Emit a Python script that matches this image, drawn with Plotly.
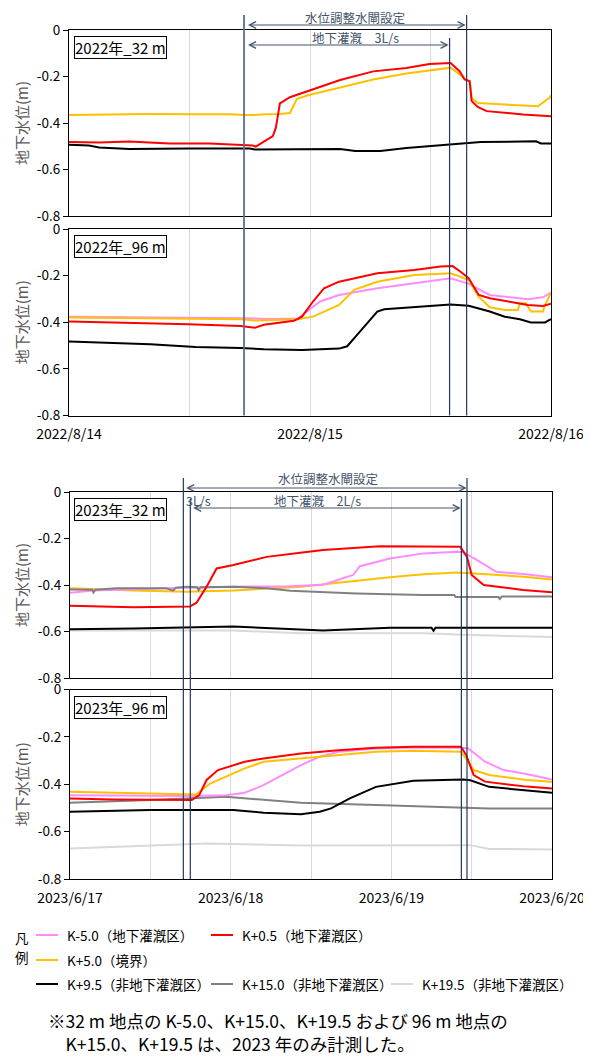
import pandas as pd
import plotly.graph_objects as go

# ------------------------------------------------------------------ data
start_2022 = "2022-08-14 00:00"
end_2022 = "2022-08-16 00:00"
start_2023 = "2023-06-17 00:00"
end_2023 = "2023-06-20 00:00"

series_names = ["K-5.0（地下灌漑区）", "K+0.5（地下灌漑区）", "K+5.0（境界）",
                "K+9.5（非地下灌漑区）", "K+15.0（非地下灌漑区）", "K+19.5（非地下灌漑区）"]
series_colors = ["#ff8cff", "#ff0000", "#ffc000", "#000000", "#808080", "#d9d9d9"]

panel_titles = ["2022年_32 m", "2022年_96 m", "2023年_32 m", "2023年_96 m"]
y_tick_vals = [0, -0.2, -0.4, -0.6, -0.8]
y_tick_text = ["0", "-0.2", "-0.4", "-0.6", "-0.8"]
x_ticks_2022 = ["2022-08-14", "2022-08-15", "2022-08-16"]
x_labels_2022 = ["2022/8/14", "2022/8/15", "2022/8/16"]
x_ticks_2023 = ["2023-06-17", "2023-06-18", "2023-06-19", "2023-06-20"]
x_labels_2023 = ["2023/6/17", "2023/6/18", "2023/6/19", "2023/6/20"]

# event times (hours after start)
ev2022_gate = [17.43, 39.6]        # 水位調整水閘設定
ev2022_irr = [17.43, 37.9]         # 地下灌漑 3L/s
ev2023_gate = [16.93, 59.3]
ev2023_irr3 = [16.93, 17.97]       # 3L/s
ev2023_irr2 = [17.97, 58.46]       # 地下灌漑 2L/s

# ---- panel 1 : 2022 32 m  (hours, values)
p1_red_h = [0, 3, 6, 10, 14, 17.5, 18.3, 18.6, 19.2, 20.3, 20.6, 21.0, 22.0, 23.8, 27.0, 30.3, 33.6, 35.9, 38.0, 38.9, 39.4, 39.9, 40.1, 40.7, 41.6, 45.2, 48]
p1_red_v = [-0.482, -0.484, -0.480, -0.488, -0.488, -0.494, -0.497, -0.502, -0.485, -0.456, -0.42, -0.316, -0.289, -0.263, -0.215, -0.178, -0.163, -0.146, -0.142, -0.177, -0.213, -0.22, -0.306, -0.331, -0.349, -0.363, -0.371]
p1_yel_h = [0, 4, 8, 12, 16, 17.5, 18.5, 19.5, 21.0, 22.0, 22.3, 22.7, 23.8, 27.0, 30.3, 33.6, 36.9, 38.0, 38.9, 39.4, 39.9, 40.1, 40.7, 43.6, 46.7, 47.9, 48]
p1_yel_v = [-0.366, -0.362, -0.361, -0.362, -0.362, -0.366, -0.366, -0.362, -0.361, -0.357, -0.33, -0.296, -0.281, -0.249, -0.213, -0.187, -0.167, -0.162, -0.19, -0.21, -0.22, -0.292, -0.314, -0.32, -0.328, -0.29, -0.28]
p1_blk_h = [0, 2, 3, 6, 12, 18, 18.5, 24, 27, 28.5, 31, 33.6, 38, 41, 46.5, 47, 48]
p1_blk_v = [-0.494, -0.497, -0.505, -0.512, -0.51, -0.51, -0.514, -0.511, -0.512, -0.52, -0.52, -0.508, -0.492, -0.482, -0.479, -0.488, -0.488]

# ---- panel 2 : 2022 96 m
p2_pnk_h = [0, 6, 12, 17.5, 20, 22.8, 23.9, 25.0, 26.9, 30.7, 34.4, 38.0, 39.7, 41.9, 45.7, 47.2, 48]
p2_pnk_v = [-0.376, -0.378, -0.38, -0.383, -0.386, -0.384, -0.347, -0.311, -0.283, -0.254, -0.233, -0.211, -0.233, -0.283, -0.301, -0.293, -0.273]
p2_red_h = [0, 6, 11.9, 17.1, 18.5, 19.4, 22.4, 23.2, 24.3, 25.4, 26.9, 30.7, 34.4, 37.0, 38.2, 38.9, 39.8, 40.8, 41.9, 45.7, 47.2, 48]
p2_red_v = [-0.397, -0.402, -0.409, -0.416, -0.424, -0.411, -0.394, -0.376, -0.311, -0.254, -0.226, -0.19, -0.176, -0.161, -0.159, -0.18, -0.211, -0.283, -0.297, -0.326, -0.33, -0.321]
p2_yel_h = [0, 8, 17.1, 18.5, 22.8, 24.3, 26.9, 28.4, 30.7, 34.4, 38.0, 38.5, 39.8, 40.8, 41.9, 43.4, 44.7, 44.9, 45.5, 46.0, 47.2, 47.4, 48]
p2_yel_v = [-0.38, -0.383, -0.387, -0.393, -0.387, -0.376, -0.326, -0.261, -0.226, -0.197, -0.19, -0.197, -0.219, -0.29, -0.336, -0.347, -0.347, -0.319, -0.319, -0.354, -0.354, -0.326, -0.273]
p2_blk_h = [0, 8.1, 12.6, 17.1, 19.4, 23.2, 26.9, 27.7, 28.8, 30.7, 31.4, 34.4, 38.0, 39.8, 41.9, 43.4, 44.9, 46.0, 47.4, 48]
p2_blk_v = [-0.483, -0.494, -0.506, -0.51, -0.516, -0.519, -0.513, -0.503, -0.449, -0.354, -0.344, -0.336, -0.324, -0.329, -0.354, -0.376, -0.387, -0.401, -0.401, -0.387]

# ---- panel 3 : 2023 32 m
p3_pnk_h = [0, 3.5, 14.4, 24.4, 32.9, 37.8, 42.3, 43.3, 47.8, 52.8, 57.8, 58.8, 60.8, 63.7, 67.7, 72]
p3_pnk_v = [-0.433, -0.424, -0.414, -0.407, -0.405, -0.399, -0.357, -0.319, -0.286, -0.264, -0.257, -0.26, -0.293, -0.343, -0.353, -0.367]
p3_red_h = [0, 9.5, 17.9, 18.9, 20.4, 21.9, 24.4, 29.4, 34.4, 37.8, 46.3, 52.8, 58.3, 59.3, 60.0, 61.8, 67.7, 72]
p3_red_v = [-0.489, -0.496, -0.493, -0.476, -0.407, -0.329, -0.314, -0.279, -0.261, -0.25, -0.233, -0.233, -0.236, -0.279, -0.357, -0.40, -0.421, -0.431]
p3_yel_h = [0, 9.5, 17.4, 24.4, 34.4, 42.8, 47.8, 52.8, 57.8, 59.8, 67.7, 72]
p3_yel_v = [-0.414, -0.424, -0.429, -0.424, -0.407, -0.381, -0.367, -0.354, -0.346, -0.35, -0.364, -0.376]
p3_blk_h = [0, 9.5, 24.4, 34.4, 37.8, 47.8, 54.0, 54.3, 54.6, 57.8, 72]
p3_blk_v = [-0.59, -0.587, -0.579, -0.593, -0.596, -0.584, -0.584, -0.597, -0.584, -0.584, -0.584]
p3_gry_h = [0, 3.3, 3.5, 3.8, 7, 14.4, 15.4, 15.8, 17.4, 19.0, 19.2, 19.5, 24.4, 29.4, 32.9, 42.8, 52.8, 57.4, 57.6, 58.8, 64.0, 64.2, 64.5, 72]
p3_gry_v = [-0.419, -0.42, -0.432, -0.42, -0.414, -0.414, -0.424, -0.412, -0.407, -0.41, -0.422, -0.41, -0.407, -0.414, -0.425, -0.437, -0.443, -0.443, -0.452, -0.452, -0.452, -0.46, -0.45, -0.45]
p3_lgy_h = [0, 24.4, 34.4, 52.8, 58.8, 72]
p3_lgy_v = [-0.596, -0.596, -0.607, -0.607, -0.614, -0.624]

# ---- panel 4 : 2023 96 m
p4_pnk_h = [0, 17.6, 23.3, 26.1, 28.9, 34.5, 37.3, 40.1, 45.7, 51.3, 58.4, 59.5, 62.0, 64.8, 68.2, 72]
p4_pnk_v = [-0.446, -0.45, -0.446, -0.436, -0.404, -0.319, -0.284, -0.263, -0.249, -0.246, -0.246, -0.249, -0.305, -0.34, -0.357, -0.38]
p4_red_h = [0, 6.4, 18.2, 19.3, 20.4, 22.1, 26.1, 28.9, 34.5, 40.1, 45.7, 51.3, 58.4, 59.2, 60.3, 62.0, 68.2, 72]
p4_red_v = [-0.46, -0.464, -0.467, -0.446, -0.382, -0.34, -0.305, -0.291, -0.27, -0.256, -0.246, -0.242, -0.242, -0.277, -0.361, -0.389, -0.41, -0.418]
p4_yel_h = [0, 12, 17.6, 18.8, 21.0, 23.3, 26.1, 28.9, 34.5, 40.1, 45.7, 51.3, 58.4, 59.5, 60.3, 62.6, 68.2, 72]
p4_yel_v = [-0.432, -0.439, -0.443, -0.443, -0.396, -0.368, -0.333, -0.305, -0.291, -0.277, -0.263, -0.259, -0.263, -0.305, -0.34, -0.361, -0.382, -0.389]
p4_blk_h = [0, 12, 24.4, 28.9, 34.5, 37.3, 39.0, 41.8, 45.7, 51.3, 58.7, 59.8, 62.6, 68.2, 72]
p4_blk_v = [-0.516, -0.509, -0.509, -0.52, -0.527, -0.516, -0.502, -0.46, -0.411, -0.385, -0.38, -0.383, -0.411, -0.425, -0.436]
p4_gry_h = [0, 12, 23.3, 34.5, 45.7, 57.0, 62.6, 72]
p4_gry_v = [-0.478, -0.467, -0.453, -0.478, -0.488, -0.498, -0.502, -0.502]
p4_lgy_h = [0, 6.4, 20.4, 34.5, 45.7, 59.8, 62.6, 72]
p4_lgy_v = [-0.671, -0.664, -0.65, -0.659, -0.657, -0.657, -0.673, -0.675]

footnote_lines = ["※32 m 地点の K-5.0、K+15.0、K+19.5 および 96 m 地点の",
                  "\u3000K+15.0、K+19.5 は、2023 年のみ計測した。"]

# ------------------------------------------------------------------ helpers
# the page body keeps an 8 px margin, so the figure is drawn 8 px smaller
# and every page position is converted to figure coordinates.
OFF = 8
W, H = 591 - OFF, 1057 - OFF
FONT = "Noto Sans CJK JP"


def ty(p):
    return 1 - (p - OFF) / H


def tx(p):
    return (p - OFF) / W


def t(start, hours):
    return pd.Timestamp(start) + pd.to_timedelta(hours, unit="h")


fig = go.Figure()


def add(start, h, v, idx, xa, ya):
    fig.add_trace(go.Scatter(
        x=[t(start, hh) for hh in h], y=v, mode="lines",
        line=dict(color=series_colors[idx], width=2),
        name=series_names[idx], showlegend=False, xaxis=xa, yaxis=ya))


# panel 1
add(start_2022, p1_blk_h, p1_blk_v, 3, "x", "y")
add(start_2022, p1_yel_h, p1_yel_v, 2, "x", "y")
add(start_2022, p1_red_h, p1_red_v, 1, "x", "y")
# panel 2
add(start_2022, p2_blk_h, p2_blk_v, 3, "x2", "y2")
add(start_2022, p2_pnk_h, p2_pnk_v, 0, "x2", "y2")
add(start_2022, p2_yel_h, p2_yel_v, 2, "x2", "y2")
add(start_2022, p2_red_h, p2_red_v, 1, "x2", "y2")
# panel 3
add(start_2023, p3_lgy_h, p3_lgy_v, 5, "x3", "y3")
add(start_2023, p3_blk_h, p3_blk_v, 3, "x3", "y3")
add(start_2023, p3_yel_h, p3_yel_v, 2, "x3", "y3")
add(start_2023, p3_pnk_h, p3_pnk_v, 0, "x3", "y3")
add(start_2023, p3_gry_h, p3_gry_v, 4, "x3", "y3")
add(start_2023, p3_red_h, p3_red_v, 1, "x3", "y3")
# panel 4
add(start_2023, p4_lgy_h, p4_lgy_v, 5, "x4", "y4")
add(start_2023, p4_gry_h, p4_gry_v, 4, "x4", "y4")
add(start_2023, p4_blk_h, p4_blk_v, 3, "x4", "y4")
add(start_2023, p4_pnk_h, p4_pnk_v, 0, "x4", "y4")
add(start_2023, p4_yel_h, p4_yel_v, 2, "x4", "y4")
add(start_2023, p4_red_h, p4_red_v, 1, "x4", "y4")

# ------------------------------------------------------------------ axes
dom_x22 = [tx(69), tx(551)]
dom_x23 = [tx(70), tx(552)]


def xaxis(start, end, dom, anchor, tv, tt, show):
    return dict(type="date", range=[start, end], domain=dom, anchor=anchor,
                automargin=False,
                showline=True, mirror=True, linecolor="black", linewidth=1,
                showgrid=True, gridcolor="#d9d9d9", gridwidth=1,
                tickmode="array", tickvals=tv, ticktext=tt, ticks="",
                showticklabels=show, ticklabelstandoff=6,
                tickfont=dict(family=FONT, size=14, color="black"),
                minor=dict(tickmode="linear", tick0=start, dtick=43200000,
                           showgrid=True, gridcolor="#d9d9d9", gridwidth=1, ticks=""),
                zeroline=False, fixedrange=True)


def yaxis(dom, anchor):
    return dict(range=[-0.8, 0], domain=dom, anchor=anchor, automargin=False,
                tickmode="array", tickvals=y_tick_vals, ticktext=y_tick_text,
                ticks="outside", ticklen=5, tickcolor="black",
                showline=True, mirror=True, linecolor="black", linewidth=1,
                showgrid=False, zeroline=False,
                tickfont=dict(family=FONT, size=13.5, color="black"))


panel_px = [(30, 216), (229, 415.5), (492, 678), (689.5, 879)]

fig.update_layout(
    width=W, height=H, margin=dict(l=0, r=0, t=0, b=0, autoexpand=False),
    paper_bgcolor="white", plot_bgcolor="white",
    font=dict(family=FONT),
    xaxis=xaxis(start_2022, end_2022, dom_x22, "y", x_ticks_2022, x_labels_2022, False),
    xaxis2=xaxis(start_2022, end_2022, dom_x22, "y2", x_ticks_2022, x_labels_2022, True),
    xaxis3=xaxis(start_2023, end_2023, dom_x23, "y3", x_ticks_2023, x_labels_2023, False),
    xaxis4=xaxis(start_2023, end_2023, dom_x23, "y4", x_ticks_2023, x_labels_2023, True),
    yaxis=yaxis([ty(panel_px[0][1]), ty(panel_px[0][0])], "x"),
    yaxis2=yaxis([ty(panel_px[1][1]), ty(panel_px[1][0])], "x2"),
    yaxis3=yaxis([ty(panel_px[2][1]), ty(panel_px[2][0])], "x3"),
    yaxis4=yaxis([ty(panel_px[3][1]), ty(panel_px[3][0])], "x4"),
)

shapes = []
annotations = []

# vertical event lines
NAVY = "#1f3864"
SLATE = "#44546a"


def vline(xref, when, top_px, bot_px, color, width):
    shapes.append(dict(type="line", xref=xref, yref="paper", x0=when, x1=when,
                       y0=ty(bot_px), y1=ty(top_px), line=dict(color=color, width=width)))


vline("x2", t(start_2022, ev2022_gate[0]), 15, 415.5, "#5b6f96", 1.8)
vline("x2", t(start_2022, ev2022_irr[1]), 38, 415.5, NAVY, 1.2)
vline("x2", t(start_2022, ev2022_gate[1]), 15, 415.5, NAVY, 1.2)
vline("x4", t(start_2023, ev2023_gate[0]), 478, 879, NAVY, 1.2)
vline("x4", t(start_2023, ev2023_irr2[0]), 499, 879, NAVY, 1.2)
vline("x4", t(start_2023, ev2023_irr2[1]), 499, 879, NAVY, 1.2)
vline("x4", t(start_2023, ev2023_gate[1]), 478, 879, NAVY, 1.2)


def harrow(xref, start, h0, h1, y_px):
    annotations.append(dict(xref=xref, yref="paper", x=t(start, h1), y=ty(y_px),
                            axref=xref, ayref="pixel", ax=t(start, h0), ay=0,
                            text="", showarrow=True, arrowside="end+start",
                            arrowhead=5, startarrowhead=5, arrowsize=1.3, startarrowsize=1.3,
                            arrowwidth=1, arrowcolor=SLATE, standoff=0, startstandoff=0))


def label(x_px, y_px, text, size=12.5, color=SLATE, anchor="center"):
    annotations.append(dict(xref="paper", yref="paper", x=tx(x_px), y=ty(y_px),
                            text=text, showarrow=False, xanchor=anchor, yanchor="middle",
                            align="left", font=dict(family=FONT, size=size, color=color)))


harrow("x2", start_2022, ev2022_gate[0] + 0.25, ev2022_gate[1] - 0.1, 25)
harrow("x2", start_2022, ev2022_irr[0] + 0.25, ev2022_irr[1] - 0.1, 45)
label(355, 18, "水位調整水閘設定")
label(355, 37, "地下灌漑　3L/s")

harrow("x4", start_2023, ev2023_gate[0] + 0.2, ev2023_gate[1] - 0.05, 488)
harrow("x4", start_2023, ev2023_irr3[0] + 0.05, ev2023_irr3[1] - 0.05, 508)
harrow("x4", start_2023, ev2023_irr2[0] + 0.2, ev2023_irr2[1] - 0.1, 508)
label(328, 478, "水位調整水閘設定")
label(317, 500, "地下灌漑　2L/s")
label(198, 500, "3L/s")

# panel title boxes and y titles
for i, (top, bot) in enumerate(panel_px):
    annotations.append(dict(xref="paper", yref="paper", x=tx(74), y=ty(top + 6),
                            xanchor="left", yanchor="top", text=panel_titles[i],
                            showarrow=False, bgcolor="white", bordercolor="black",
                            borderwidth=1, borderpad=0,
                            font=dict(family=FONT, size=15, color="black")))
    annotations.append(dict(xref="paper", yref="paper", x=tx(21), y=ty((top + bot) / 2),
                            text="地下水位(m)", textangle=-90, showarrow=False,
                            xanchor="center", yanchor="middle",
                            font=dict(family=FONT, size=15, color="#595959")))

# legend (drawn)
legend_slots = [(0, 36, 935), (1, 211, 935), (2, 36, 960), (3, 36, 984), (4, 211, 984), (5, 391, 984)]
for idx, x0, yy in legend_slots:
    shapes.append(dict(type="line", xref="paper", yref="paper", x0=tx(x0), x1=tx(x0 + 22),
                       y0=ty(yy), y1=ty(yy), line=dict(color=series_colors[idx], width=2)))
    label(x0 + 29, yy, series_names[idx], size=13.5, color="black", anchor="left")
label(22, 938, "凡", size=13.5, color="black")
label(22, 957, "例", size=13.5, color="black")

# footnote (two lines, second line hung under the text after ※)
label(46, 1032, "<br>".join(footnote_lines), size=17.5, color="black", anchor="left")

fig.update_layout(shapes=shapes, annotations=annotations)
fig.write_html("out.html")
